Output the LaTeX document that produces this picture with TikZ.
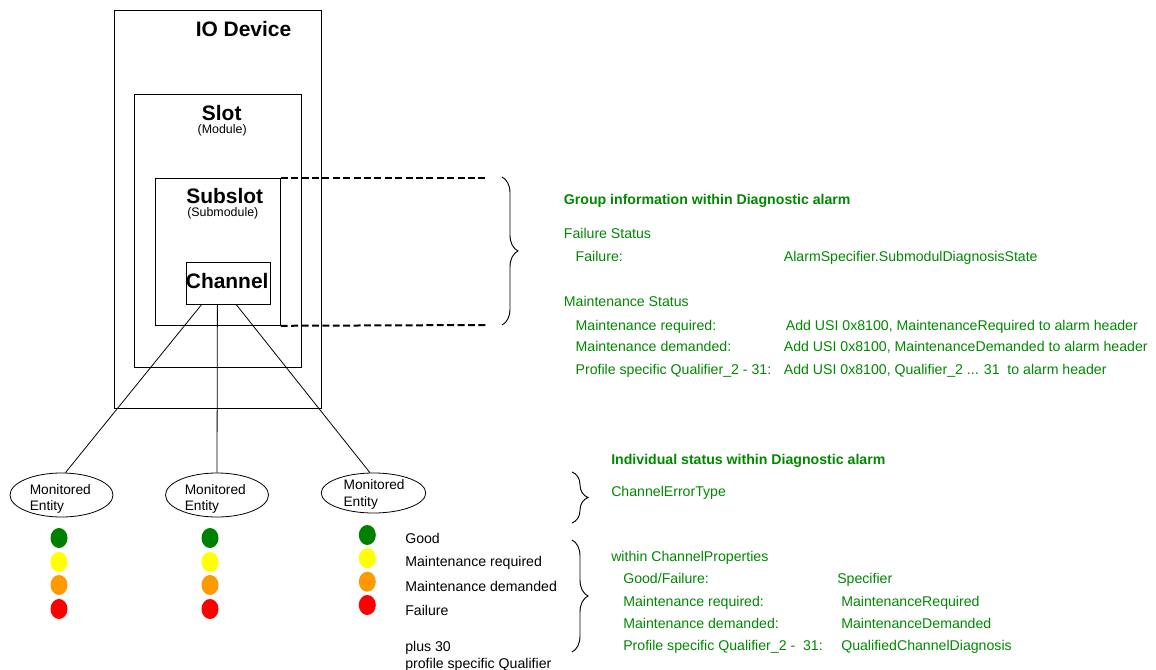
\documentclass[tikz,border=0pt]{standalone}
\usepackage{fontspec}
\setmainfont{Liberation Sans}
\usetikzlibrary{shapes.geometric,decorations.pathreplacing,calc}
\definecolor{txtgreen}{RGB}{0,136,0}
\definecolor{ledgreen}{RGB}{0,128,0}
\definecolor{ledyellow}{RGB}{255,255,0}
\definecolor{ledorange}{RGB}{255,153,0}
\definecolor{ledred}{RGB}{255,0,0}
\newcommand\pxl{0.75pt}
\begin{document}
\begin{tikzpicture}[x=0.75pt,y=-0.75pt,
  frame/.style={draw, line width=0.6pt, rectangle, inner sep=0pt, anchor=north west},
  title/.style={font=\bfseries\fontsize{15.7}{18}\selectfont, anchor=base, inner sep=0pt},
  subtitle/.style={font=\fontsize{9.3}{11}\selectfont, anchor=base, inner sep=0pt},
  body/.style={font=\fontsize{10.6}{12.75}\selectfont, anchor=base west, inner sep=0pt},
  gtext/.style={body, text=txtgreen},
  ghead/.style={gtext, font=\bfseries\fontsize{10.6}{12.75}\selectfont},
  entity/.style={draw, ellipse, line width=0.6pt, inner sep=0pt},
  etext/.style={font=\fontsize{10.3}{12.4}\selectfont, anchor=base west, inner sep=0pt},
  led/.style={ellipse, inner sep=0pt, minimum width={17*\pxl}, minimum height={20*\pxl}},
  wire/.style={line width=0.6pt},
  guide/.style={line width=1.5pt, dash pattern=on 5.2pt off 2.6pt},
  curly/.style={decorate, decoration={brace, amplitude=12pt}, line width=0.7pt}
]
\useasboundingbox (0,0) rectangle (1156,670);

% nested device structure
\node[frame, minimum width={207*\pxl}, minimum height={398*\pxl}] (dev) at (114,10) {};
\node[frame, minimum width={167*\pxl}, minimum height={273*\pxl}] (slot) at (134,94) {};
\node[frame, minimum width={125*\pxl}, minimum height={147*\pxl}] (sub) at (155,178) {};
\node[frame, minimum width={84*\pxl}, minimum height={42*\pxl}] (chan) at (186,262) {};

\node[title] (devlbl) at (243.5,36.7) {IO Device};
\node[title] (slotlbl) at (221.7,120.7) {Slot};
\node[subtitle] (slotsub) at (222.2,133.3) {(Module)};
\node[title] (sublbl) at (224.7,204) {Subslot};
\node[subtitle] (subsub) at (222.8,216.7) {(Submodule)};
\node[title] (chanlbl) at (227.2,288.7) {Channel};

% dashed guides from the subslot to the group brace
\coordinate (gt) at (487,178);
\coordinate (gb) at (487,325);
\draw[guide] (sub.north east) -- (gt);
\draw[guide] (sub.south east) -- (gb);

% monitored entities
\node[entity, minimum width={103*\pxl}, minimum height={44*\pxl}] (e1) at (61.5,495) {};
\node[entity, minimum width={103*\pxl}, minimum height={44*\pxl}] (e2) at (217,495) {};
\node[entity, minimum width={104.5*\pxl}, minimum height={40*\pxl}] (e3) at (373.5,493) {};
\node[etext] (e1a) at (29.5,494) {Monitored};
\node[etext] (e1b) at (29.5,510.5) {Entity};
\node[etext] (e2a) at (184.5,494) {Monitored};
\node[etext] (e2b) at (184.5,510.5) {Entity};
\node[etext] (e3a) at (343.3,489.5) {Monitored};
\node[etext] (e3b) at (343.3,506) {Entity};

\coordinate (w1) at ($(chan.south)+(-27,0)$);
\coordinate (w2) at ($(chan.south)+(-11,0)$);
\coordinate (w3) at ($(chan.south)+(8,0)$);
\draw[wire] (w1) -- (e1.80);
\draw[wire] (w2) -- (e2.north);
\draw[wire] (w3) -- (e3.100);

% status lights
\foreach \cx/\col in {59/a,210/b}{
  \node[led, fill=ledgreen]  (g\col) at (\cx,538) {};
  \node[led, fill=ledyellow] (y\col) at (\cx,562) {};
  \node[led, fill=ledorange] (o\col) at (\cx,585) {};
  \node[led, fill=ledred]    (r\col) at (\cx,609) {};
}
\node[led, fill=ledgreen]  (gc) at (367.3,535) {};
\node[led, fill=ledyellow] (yc) at (367.3,558.3) {};
\node[led, fill=ledorange] (oc) at (367.3,581.7) {};
\node[led, fill=ledred]    (rc) at (367.3,605) {};

\node[body] (lgood) at (405,543) {Good};
\node[body] (lreq) at (405,566.7) {Maintenance required};
\node[body] (ldem) at (405,591) {Maintenance demanded};
\node[body] (lfail) at (405,615) {Failure};
\node[body] (lplus) at (405,651) {plus 30};
\node[body] (lprof) at (405,668.3) {profile specific Qualifier};

% braces
\coordinate (b1t) at (502,177);
\coordinate (b1b) at (502,325);
\draw[curly] (b1t) -- (b1b);
\coordinate (b2t) at (572,472);
\coordinate (b2b) at (572,523);
\draw[curly] (b2t) -- (b2b);
\coordinate (b3t) at (572,540);
\coordinate (b3b) at (572,652);
\draw[curly] (b3t) -- (b3b);

% group information
\node[ghead] (gh) at (563.6,204.3) {Group information within Diagnostic alarm};
\node[gtext] (fs) at (563.6,238.5) {Failure Status};
\node[gtext] (fsk) at (575.4,261.5) {Failure:};
\node[gtext] (fsv) at (783.6,261.5) {AlarmSpecifier.SubmodulDiagnosisState};
\node[gtext] (ms) at (563.6,306.7) {Maintenance Status};
\node[gtext] (mrk) at (575.4,330) {Maintenance required:};
\node[gtext] (mrv) at (785.6,330) {Add USI 0x8100, MaintenanceRequired to alarm header};
\node[gtext] (mdk) at (575.4,351.7) {Maintenance demanded:};
\node[gtext] (mdv) at (783.6,351.7) {Add USI 0x8100, MaintenanceDemanded to alarm header};
\node[gtext] (mpk) at (575.4,374.3) {Profile specific Qualifier\_2 - 31:};
\node[gtext] (mpv) at (783.6,374.3) {Add USI 0x8100, Qualifier\_2 ... 31\ \ to alarm header};

% individual status
\node[ghead] (ih) at (611,464.5) {Individual status within Diagnostic alarm};
\node[gtext] (cet) at (611,496.7) {ChannelErrorType};
\node[gtext] (cp) at (611,561) {within ChannelProperties};
\node[gtext] (cgk) at (623,583) {Good/Failure:};
\node[gtext] (cgv) at (837,583) {Specifier};
\node[gtext] (crk) at (623,606.7) {Maintenance required:};
\node[gtext] (crv) at (841,606.7) {MaintenanceRequired};
\node[gtext] (cdk) at (623,628.3) {Maintenance demanded:};
\node[gtext] (cdv) at (841,628.3) {MaintenanceDemanded};
\node[gtext] (cqk) at (623,650.7) {Profile specific Qualifier\_2 -\ \ 31:};
\node[gtext] (cqv) at (841,650.7) {QualifiedChannelDiagnosis};
\end{tikzpicture}
\end{document}
